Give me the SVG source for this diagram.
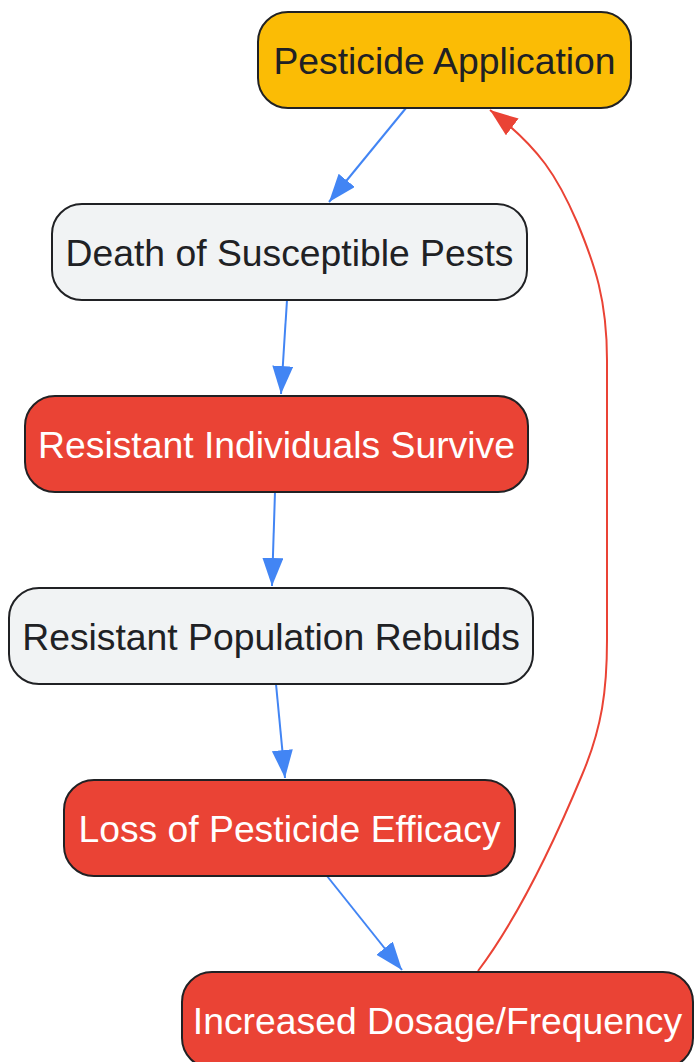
<svg xmlns="http://www.w3.org/2000/svg" width="694" height="1062" viewBox="0 0 694 1062">
<style>
.box{stroke:#202124;stroke-width:2}
.yellow{fill:#FBBC05}
.grey{fill:#F1F3F4}
.red{fill:#EA4335}
text{font-family:"Liberation Sans",Arial,sans-serif;font-size:37.3px;text-anchor:middle;dominant-baseline:central}
.dark{fill:#202124}
.light{fill:#FFFFFF}
.e{fill:none;stroke-width:2}
.blue{stroke:#4285F4}
.redl{stroke:#EA4335}
</style>
<defs>
<marker id="ab" markerUnits="userSpaceOnUse" markerWidth="30" markerHeight="22" refX="28" refY="10.5" orient="auto"><path d="M0,0 L28,10.5 L0,21 z" fill="#4285F4"/></marker>
<marker id="ar" markerUnits="userSpaceOnUse" markerWidth="30" markerHeight="22" refX="28" refY="10.5" orient="auto"><path d="M0,0 L28,10.5 L0,21 z" fill="#EA4335"/></marker>
</defs>
<rect width="694" height="1062" fill="#FFFFFF"/>
<g id="connectors">
<path class="e blue" d="M406,108 L329,202" marker-end="url(#ab)"/>
<path class="e blue" d="M287,300 L281,394" marker-end="url(#ab)"/>
<path class="e blue" d="M275,492 L272,586" marker-end="url(#ab)"/>
<path class="e blue" d="M276,684 L285,778" marker-end="url(#ab)"/>
<path class="e blue" d="M327,876 L402,970" marker-end="url(#ab)"/>
<path class="e redl" d="M478,971 C520,915 555,840 582,775 C602,728 607,690 607,640 L607,360 C607,300 595,265 577,222 C558,178 540,148 490,110" marker-end="url(#ar)"/>
</g>
<g id="n1"><rect class="box yellow" x="258" y="12" width="373" height="96" rx="30"/><text class="dark" x="444.5" y="61">Pesticide Application</text></g>
<g id="n2"><rect class="box grey" x="52" y="204" width="475" height="96" rx="30"/><text class="dark" x="289.5" y="253">Death of Susceptible Pests</text></g>
<g id="n3"><rect class="box red" x="25" y="396" width="503" height="96" rx="30"/><text class="light" x="276.5" y="445">Resistant Individuals Survive</text></g>
<g id="n4"><rect class="box grey" x="9" y="588" width="524" height="96" rx="30"/><text class="dark" x="271" y="637">Resistant Population Rebuilds</text></g>
<g id="n5"><rect class="box red" x="64" y="780" width="451" height="96" rx="30"/><text class="light" x="289.5" y="829">Loss of Pesticide Efficacy</text></g>
<g id="n6"><rect class="box red" x="182" y="972" width="511" height="96" rx="30"/><text class="light" x="437.5" y="1021">Increased Dosage/Frequency</text></g>
</svg>
